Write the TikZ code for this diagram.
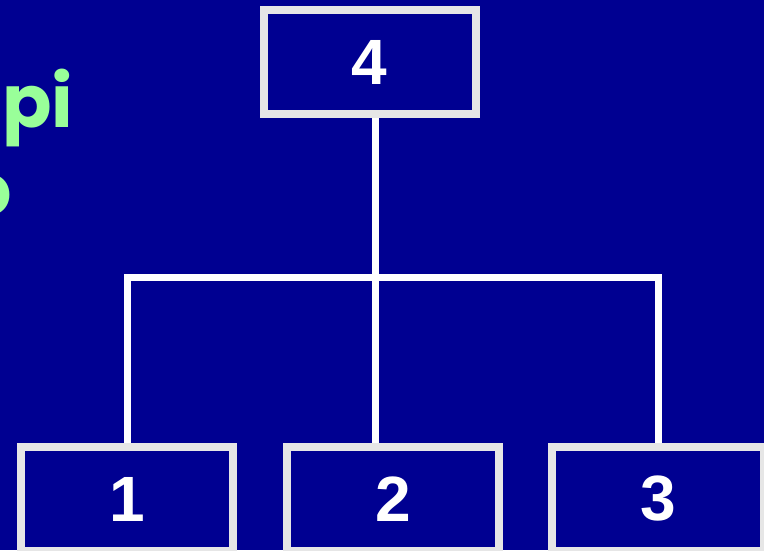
\documentclass[tikz,border=0pt]{standalone}
\usepackage{fontspec}
\setmainfont{Liberation Sans}
\newfontfamily\greenfont{Poppins}
\definecolor{slideblue}{RGB}{0, 0, 145}
\definecolor{framegray}{RGB}{230, 230, 230}
\definecolor{notegreen}{RGB}{153, 255, 153}
\usetikzlibrary{calc}

\begin{document}
\begin{tikzpicture}[
  x=1pt, y=-1pt,
  rbox/.style={draw=framegray, line width=8pt, fill=slideblue, minimum width=212pt, minimum height=104pt,
    inner sep=0pt, outer sep=4pt, text=white, font=\bfseries\fontsize{64}{64}\selectfont},
  note/.style={inner sep=0pt, text=notegreen, font=\greenfont\bfseries\fontsize{73}{73}\selectfont},
  link/.style={draw=white, line width=7pt}
]
  \useasboundingbox (0,0) rectangle (764,550);
  \fill[slideblue] (0,0) rectangle (764,550);
  \clip (0,0) rectangle (764,550);

  % cut-off text at the left edge
  \node[note, anchor=base west] (txtpi) at (2,127) {pi};
  \node[note, anchor=base east] (txto) at (12,215) {o};

  \node[rbox] (n4) at (369.5,62) {4};
  \node[rbox] (n1) at (127,499) {1};
  \node[rbox] (n2) at (393,499) {2};
  \node[rbox] (n3) at (658,499) {3};

  \coordinate (hub) at (375.5,277);
  \draw[link] (n4.south -| hub) -- (n2.north -| hub);
  \draw[link] (n1.north) |- (hub) -| (n3.north);
\end{tikzpicture}
\end{document}
